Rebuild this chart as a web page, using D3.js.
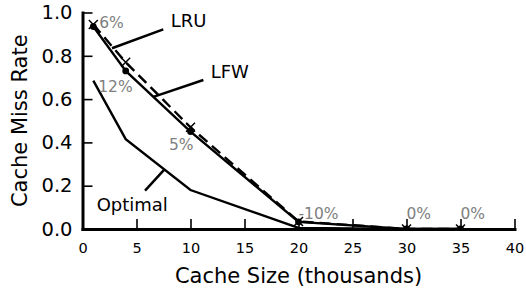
<!DOCTYPE html>
<html>
<head>
<meta charset="utf-8">
<script src="https://cdn.jsdelivr.net/npm/d3@7"></script>
<style>
  html, body { margin: 0; padding: 0; background: #fff; }
</style>
</head>
<body>
<div id="chart"></div>
<script>
// data
const cacheSizes = [1, 4, 10, 20, 30, 35];
const lruMiss = [0.945, 0.77, 0.47, 0.035, 0.0, 0.0];
const lfwMiss = [0.935, 0.73, 0.45, 0.033, 0.0, 0.0];
const optimalMiss = [0.685, 0.415, 0.18, 0.005, 0.0, 0.0];

// difference labels (text + anchor in data units)
const diffText = ["6%", "12%", "5%", "-10%", "0%", "0%"];
const diffX = [1.55, 1.45, 8.0, 20.0, 30.0, 35.0];
const diffY = [0.93, 0.635, 0.363, 0.047, 0.047, 0.047];

// series name labels with leader lines (data units)
const seriesNames = ["LRU", "LFW", "Optimal"];
const nameX = [8.17, 11.87, 1.31];
const nameY = [0.932, 0.699, 0.083];
const leaderFrom = [[7.48, 0.922], [11.19, 0.688], [5.79, 0.177]];
const leaderTo = [[2.73, 0.835], [6.56, 0.610], [7.55, 0.273]];

const xTicks = [0, 5, 10, 15, 20, 25, 30, 35, 40];
const yTicks = [0, 0.2, 0.4, 0.6, 0.8, 1.0];

const attrs = {
  svgWidth: 526,
  svgHeight: 292,
  marginTop: 12.5,
  marginLeft: 82.5,
  marginRight: 11.5,
  marginBottom: 63,
  defaultFont: "DejaVu Sans",
  ink: "#000",
  grey: "#808080"
};

const chartWidth = attrs.svgWidth - attrs.marginLeft - attrs.marginRight;
const chartHeight = attrs.svgHeight - attrs.marginTop - attrs.marginBottom;

const svg = d3.select("#chart")
  .append("svg")
  .attr("width", attrs.svgWidth)
  .attr("height", attrs.svgHeight)
  .attr("font-family", attrs.defaultFont);

const chart = svg.append("g")
  .attr("transform", "translate(" + attrs.marginLeft + "," + attrs.marginTop + ")");

const x = d3.scaleLinear().domain([0, 40]).range([0, chartWidth]);
const y = d3.scaleLinear().domain([0, 1]).range([chartHeight, 0]);

svg.append("defs").append("clipPath")
  .attr("id", "plot-clip")
  .append("rect")
  .attr("width", chartWidth)
  .attr("height", chartHeight);

// axes: ticks pointing inward, no top/right spines
const xAxis = chart.append("g")
  .attr("transform", "translate(0," + chartHeight + ")")
  .call(d3.axisBottom(x).tickValues(xTicks).tickSizeInner(-10).tickSizeOuter(0).tickPadding(14).tickFormat(d3.format("d")));
xAxis.select(".domain").attr("stroke-width", 3).attr("stroke-linecap", "square");
xAxis.selectAll(".tick line").attr("stroke-width", 1.6);
xAxis.selectAll(".tick text").attr("font-size", 14.5).attr("fill", attrs.ink).attr("font-family", attrs.defaultFont);

const yAxis = chart.append("g")
  .call(d3.axisLeft(y).tickValues(yTicks).tickSizeInner(-10).tickSizeOuter(0).tickPadding(10).tickFormat(d3.format(".1f")));
yAxis.select(".domain").attr("stroke-width", 3).attr("stroke-linecap", "square");
yAxis.selectAll(".tick line").attr("stroke-width", 1.6);
yAxis.selectAll(".tick text").attr("font-size", 19.5).attr("fill", attrs.ink).attr("font-family", attrs.defaultFont);

// axis titles
svg.append("text")
  .attr("x", attrs.marginLeft + chartWidth / 2)
  .attr("y", 283)
  .attr("text-anchor", "middle")
  .attr("font-size", 21)
  .text("Cache Size (thousands)");

svg.append("text")
  .attr("transform", "translate(27," + (attrs.marginTop + chartHeight / 2) + ") rotate(-90)")
  .attr("text-anchor", "middle")
  .attr("font-size", 21)
  .text("Cache Miss Rate");

// lines
const plot = chart.append("g").attr("clip-path", "url(#plot-clip)");
const line = d3.line().x(d => x(d[0])).y(d => y(d[1]));
const zip = vals => cacheSizes.map((c, i) => [c, vals[i]]);

plot.append("path")
  .datum(zip(optimalMiss))
  .attr("d", line)
  .attr("fill", "none")
  .attr("stroke", attrs.ink)
  .attr("stroke-width", 2.4);

plot.append("path")
  .datum(zip(lfwMiss))
  .attr("d", line)
  .attr("fill", "none")
  .attr("stroke", attrs.ink)
  .attr("stroke-width", 2.4);

plot.append("path")
  .datum(zip(lruMiss))
  .attr("d", line)
  .attr("fill", "none")
  .attr("stroke", attrs.ink)
  .attr("stroke-width", 2.4)
  .attr("stroke-dasharray", "11,6");

// markers
plot.selectAll(".lfw-dot")
  .data(zip(lfwMiss))
  .enter().append("circle")
  .attr("class", "lfw-dot")
  .attr("cx", d => x(d[0]))
  .attr("cy", d => y(d[1]))
  .attr("r", 3.4)
  .attr("fill", attrs.ink);

const xm = 4.5;
plot.selectAll(".lru-x")
  .data(zip(lruMiss))
  .enter().append("path")
  .attr("class", "lru-x")
  .attr("d", d => {
    const cx = x(d[0]), cy = y(d[1]);
    return "M" + (cx - xm) + "," + (cy - xm) + "L" + (cx + xm) + "," + (cy + xm) +
      "M" + (cx - xm) + "," + (cy + xm) + "L" + (cx + xm) + "," + (cy - xm);
  })
  .attr("stroke", attrs.ink)
  .attr("stroke-width", 1.5)
  .attr("fill", "none");

// difference labels
chart.selectAll(".diff-label")
  .data(diffText)
  .enter().append("text")
  .attr("class", "diff-label")
  .attr("x", (d, i) => x(diffX[i]))
  .attr("y", (d, i) => y(diffY[i]))
  .attr("font-size", 15.5)
  .attr("fill", attrs.grey)
  .text(d => d);

// series names and leader lines
chart.selectAll(".leader")
  .data(seriesNames)
  .enter().append("line")
  .attr("class", "leader")
  .attr("x1", (d, i) => x(leaderFrom[i][0]))
  .attr("y1", (d, i) => y(leaderFrom[i][1]))
  .attr("x2", (d, i) => x(leaderTo[i][0]))
  .attr("y2", (d, i) => y(leaderTo[i][1]))
  .attr("stroke", attrs.ink)
  .attr("stroke-width", 2.5);

chart.selectAll(".series-name")
  .data(seriesNames)
  .enter().append("text")
  .attr("class", "series-name")
  .attr("x", (d, i) => x(nameX[i]))
  .attr("y", (d, i) => y(nameY[i]))
  .attr("font-size", 18)
  .attr("fill", attrs.ink)
  .text(d => d);
</script>
</body>
</html>
